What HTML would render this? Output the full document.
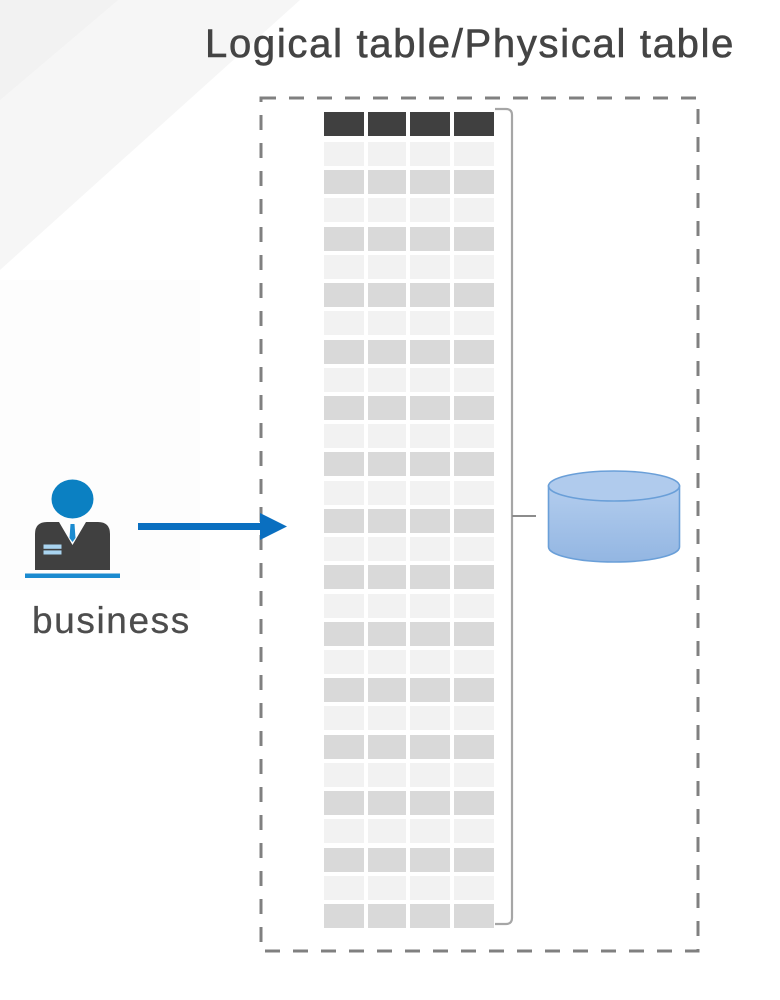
<!DOCTYPE html>
<html>
<head>
<meta charset="utf-8">
<style>
  html,body{margin:0;padding:0;background:#ffffff;}
  body{width:780px;height:1000px;overflow:hidden;position:relative;}
  svg{position:absolute;left:0;top:0;}
</style>
</head>
<body>
<svg width="780" height="1000" viewBox="0 0 780 1000" xmlns="http://www.w3.org/2000/svg">
  <defs>
    <linearGradient id="cyl" x1="0" y1="0" x2="0" y2="1">
      <stop offset="0" stop-color="#b3cdee"/>
      <stop offset="1" stop-color="#93b6e2"/>
    </linearGradient>
  </defs>

  <!-- subtle background shapes -->
  <rect x="0" y="0" width="780" height="1000" fill="#ffffff"/>
  <polygon points="0,0 300,0 0,270" fill="#f6f6f6"/>
  <polygon points="0,0 118,0 0,100" fill="#f2f2f2"/>
  <rect x="0" y="280" width="200" height="310" fill="#fdfdfd"/>

  <!-- title -->
  <text x="205" y="57" font-family="Liberation Sans, Arial, sans-serif" font-size="40" letter-spacing="1.7" fill="#444444" stroke="#444444" stroke-width="0.6">Logical table/Physical table</text>

  <!-- dashed container -->
  <rect x="261" y="98" width="437" height="853" fill="none" stroke="#808080" stroke-width="3" stroke-dasharray="15 13"/>

  <!-- header row -->
  <g fill="#404040">
    <rect x="324" y="112" width="40" height="24"/>
    <rect x="368" y="112" width="38" height="24"/>
    <rect x="410" y="112" width="40" height="24"/>
    <rect x="454" y="112" width="40" height="24"/>
  </g>

  <!-- body rows (generated) -->
  <g id="rows"></g>

  <!-- bracket -->
  <path d="M495,109 L506,109 Q512,109 512,115 L512,918 Q512,924 506,924 L495,924" fill="none" stroke="#a6a6a6" stroke-width="2.2"/>
  <path d="M512,516 L536,516" fill="none" stroke="#8c8c8c" stroke-width="2"/>

  <!-- cylinder -->
  <path d="M548.5,486 L548.5,547 A65.5,15 0 0 0 679.5,547 L679.5,486 Z" fill="url(#cyl)" stroke="#6a9fd8" stroke-width="1.6"/>
  <ellipse cx="614" cy="486" rx="65.5" ry="15" fill="#b0cbed" stroke="#6a9fd8" stroke-width="1.6"/>

  <!-- person icon -->
  <ellipse cx="72.5" cy="499" rx="21" ry="19.5" fill="#0b80c2"/>
  <path d="M35,570 L35,534 Q35,522 47,522 L59,522 L72.5,545 L86,522 L98,522 Q110,522 110,534 L110,570 Z" fill="#404040"/>
  <path d="M70.5,524 L74.5,524 L75.5,538 L72.5,542 L69.5,538 Z" fill="#1b8bd0"/>
  <rect x="43.5" y="544.5" width="18" height="10" fill="#a9d4f0"/>
  <rect x="43.5" y="548.8" width="18" height="1.6" fill="#404040"/>
  <rect x="25" y="573.5" width="95" height="4.5" fill="#1b8bd0"/>

  <!-- business label -->
  <text x="32" y="633" font-family="Liberation Sans, Arial, sans-serif" font-size="37" letter-spacing="1.6" fill="#4d4d4d" stroke="#4d4d4d" stroke-width="0.3">business</text>

  <!-- arrow -->
  <rect x="138" y="523" width="124" height="7" fill="#0a6fc0"/>
  <polygon points="260,513 287,526.5 260,540" fill="#0a6fc0"/>
</svg>
<script>
(function(){
  var g=document.getElementById('rows');
  var ns='http://www.w3.org/2000/svg';
  var cols=[[324,40],[368,38],[410,40],[454,40]];
  for(var i=0;i<28;i++){
    var y=Math.round(142+i*28.22);
    var c=(i%2===0)?'#f2f2f2':'#d9d9d9';
    for(var j=0;j<4;j++){
      var r=document.createElementNS(ns,'rect');
      r.setAttribute('x',cols[j][0]);
      r.setAttribute('y',y);
      r.setAttribute('width',cols[j][1]);
      r.setAttribute('height',24);
      r.setAttribute('fill',c);
      g.appendChild(r);
    }
  }
})();
</script>
</body>
</html>
